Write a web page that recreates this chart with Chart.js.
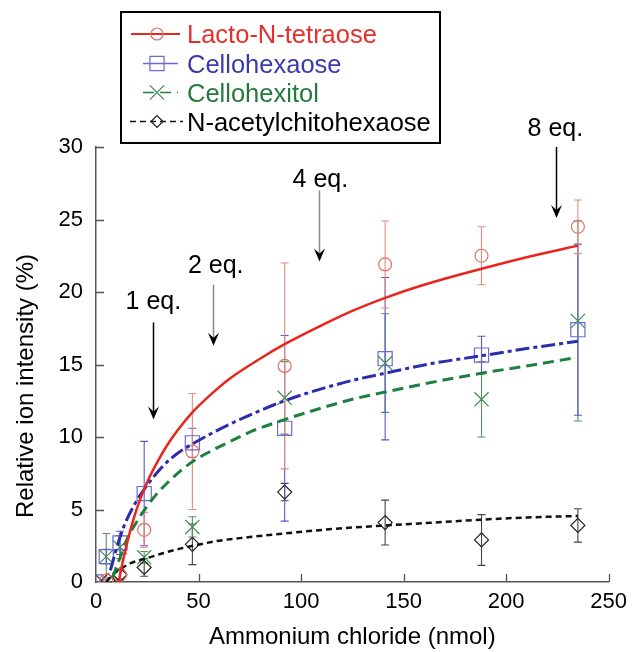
<!DOCTYPE html>
<html><head><meta charset="utf-8">
<script src="https://cdn.jsdelivr.net/npm/chart.js@4.4.1/dist/chart.umd.min.js"></script>
<style>html,body{margin:0;padding:0;background:#fff}#wrap{width:634px;height:652px}</style>
</head><body><div id="wrap"><canvas id="c" width="634" height="652"></canvas></div>
<script>
// ---------- DATA ----------
const seriesNames = ['Lacto-N-tetraose', 'Cellohexaose', 'Cellohexitol', 'N-acetylchitohexaose'];

const lactoX   = [5, 11.7, 23.5, 47, 92, 141, 188, 235];
const lactoY   = [0.1, 0.5, 3.6, 9.0, 14.9, 21.9, 22.5, 24.5];
const lactoErr = [0.2, 0.4, 1.2, 4.0, 7.1, 3.0, 2.0, 1.85];

const celloX   = [0, 5, 11.7, 23.5, 47, 92, 141, 188, 235];
const celloY   = [0, 1.75, 2.7, 6.1, 9.6, 10.6, 15.4, 15.65, 17.4];
const celloErr = [0, 0.5, 0.8, 3.6, 1.0, 6.4, 5.6, 1.3, 5.9];

const hexitolX   = [5, 11.7, 23.5, 47, 92, 141, 188, 235];
const hexitolY   = [1.75, 2.4, 1.7, 3.8, 12.7, 15.1, 12.6, 18.0];
const hexitolErr = [1.6, 0.8, 0.4, 0.7, 2.5, 3.4, 2.6, 6.9];

const chitoX   = [0, 5.9, 11.7, 23.5, 47, 92, 141, 188, 235];
const chitoY   = [0, 0.1, 0.5, 1.0, 2.6, 6.2, 4.1, 2.9, 3.9];
const chitoErr = [0, 0.2, 0.3, 0.6, 1.4, 0.6, 1.55, 1.75, 1.15];

// fitted curves
const lactoFitX = [11, 14, 17, 20, 25, 30, 35, 40, 47, 55, 65, 80, 92, 110, 125, 141, 160, 188, 210, 235];
const lactoFitY = [0, 2.0, 3.7, 5.1, 6.9, 8.3, 9.5, 10.5, 11.7, 12.8, 14.0, 15.4, 16.4, 17.7, 18.7, 19.6, 20.5, 21.6, 22.4, 23.2];

const celloFitX = [7, 10, 13.5, 19, 24.6, 32, 40, 48, 57, 67, 78, 92, 107, 125, 141, 165, 188, 210, 235];
const celloFitY = [0.8, 2.3, 3.8, 5.4, 6.6, 7.9, 8.9, 9.6, 10.3, 11.0, 11.7, 12.5, 13.2, 13.9, 14.4, 15.1, 15.6, 16.1, 16.6];

const hexitolFitX = [8, 11, 15, 20.5, 28, 36, 46, 57, 67, 76, 92, 110, 125, 141, 165, 188, 210, 233];
const hexitolFitY = [0.3, 1.4, 2.9, 4.3, 5.8, 7.0, 8.2, 9.1, 9.8, 10.4, 11.2, 12.0, 12.6, 13.1, 13.8, 14.4, 14.9, 15.45];

const chitoFitX = [5, 8, 12, 17, 25, 33, 41, 49, 60, 75, 92, 115, 141, 165, 188, 210, 235];
const chitoFitY = [0, 0.5, 0.9, 1.3, 1.65, 2.0, 2.3, 2.55, 2.85, 3.1, 3.35, 3.65, 3.9, 4.1, 4.3, 4.45, 4.55];

const xTicks = [0, 50, 100, 150, 200, 250];
const yTicks = [0, 5, 10, 15, 20, 25, 30];

// annotations (data coordinates)
const annoLabels   = ['1 eq.', '2 eq.', '4 eq.', '8 eq.'];
const annoTextX    = [28, 58.4, 109.4, 224];
const annoTextY    = [19.3, 21.8, 27.7, 31.2];
const annoArrowX   = [28, 57, 108.9, 224.3];
const annoArrowTop = [17.9, 20.5, 27.0, 30.0];
const annoArrowTip = [11.2, 16.3, 22.1, 25.1];

// ---------- STYLE ----------
const FONT = "'Liberation Sans', Arial, Helvetica, sans-serif";
const styles = [
  {line:'#e8261e', dash:[], lw:2.5, mark:'#e2705f', err:'#e88a80', text:'#e5302a', ps:'circle', r:6.5, lr:6},
  {line:'#2c2cae', dash:[14,4,4,4], lw:3, mark:'#6a6ad2', err:'#5a5acc', text:'#3a3aaa', ps:'rect', r:10, lr:10},
  {line:'#1d8040', dash:[11,6], lw:3, mark:'#3f8a4f', err:'#5a8f5f', text:'#237a3a', ps:'crossRot', r:10, lr:10},
  {line:'#111111', dash:[6,4], lw:2.5, mark:'#222222', err:'#444444', text:'#000000', ps:'rectRot', r:7, lr:6}
];
const annoShaft = ['#000', '#888', '#888', '#000'];

const pts = (xs, ys) => xs.map((x, i) => ({x: x, y: ys[i]}));
const markX = [lactoX, celloX, hexitolX, chitoX];
const markY = [lactoY, celloY, hexitolY, chitoY];
const markE = [lactoErr, celloErr, hexitolErr, chitoErr];
const fitX = [lactoFitX, celloFitX, hexitolFitX, chitoFitX];
const fitY = [lactoFitY, celloFitY, hexitolFitY, chitoFitY];

const datasets = [];
for (let s = 0; s < 4; s++) {
  datasets.push({
    label: seriesNames[s] + ' fit', data: pts(fitX[s], fitY[s]), showLine: true,
    borderColor: styles[s].line, borderWidth: styles[s].lw, borderDash: styles[s].dash,
    pointRadius: 0, fill: false, cubicInterpolationMode: 'monotone', borderCapStyle: 'butt'
  });
}
for (let s = 0; s < 4; s++) {
  datasets.push({
    label: seriesNames[s], data: pts(markX[s], markY[s]), showLine: false,
    pointStyle: styles[s].ps, pointRadius: styles[s].r, pointBorderColor: styles[s].mark,
    pointBackgroundColor: 'rgba(0,0,0,0)', pointBorderWidth: 1.2
  });
}

const errorBars = {
  id: 'errorBars',
  beforeDatasetsDraw(chart) {
    const ctx = chart.ctx, xs = chart.scales.x, ys = chart.scales.y;
    ctx.save();
    for (let s = 3; s >= 0; s--) {
      ctx.strokeStyle = styles[s].err; ctx.lineWidth = 1.1;
      markX[s].forEach((x, i) => {
        const e = markE[s][i]; if (!e) return;
        const px = xs.getPixelForValue(x);
        const t = ys.getPixelForValue(markY[s][i] + e);
        const b = ys.getPixelForValue(Math.max(0, markY[s][i] - e));
        ctx.beginPath();
        ctx.moveTo(px, t); ctx.lineTo(px, b);
        ctx.moveTo(px - 4, t); ctx.lineTo(px + 4, t);
        ctx.moveTo(px - 4, b); ctx.lineTo(px + 4, b);
        ctx.stroke();
      });
    }
    ctx.restore();
  }
};

const decor = {
  id: 'decor',
  afterDraw(chart) {
    const ctx = chart.ctx, xs = chart.scales.x, ys = chart.scales.y, a = chart.chartArea;
    ctx.save();
    // inward ticks
    ctx.strokeStyle = '#555'; ctx.lineWidth = 1.3;
    ctx.beginPath();
    xTicks.forEach(v => { if (v === 0) return; const p = Math.round(xs.getPixelForValue(v)) + 0.5; ctx.moveTo(p, a.bottom); ctx.lineTo(p, a.bottom - 8); });
    yTicks.forEach(v => { if (v === 0) return; const p = Math.round(ys.getPixelForValue(v)) + 0.5; ctx.moveTo(a.left, p); ctx.lineTo(a.left + 8, p); });
    ctx.stroke();

    // y axis title
    ctx.save();
    ctx.translate(26, 386); ctx.rotate(-Math.PI / 2);
    ctx.font = '24px ' + FONT; ctx.fillStyle = '#000'; ctx.textAlign = 'center'; ctx.textBaseline = 'middle';
    ctx.fillText('Relative ion intensity (%)', 0, 0);
    ctx.restore();

    // annotations
    ctx.font = '25px ' + FONT; ctx.textAlign = 'center'; ctx.textBaseline = 'middle';
    annoLabels.forEach((lab, i) => {
      ctx.fillStyle = '#000';
      ctx.fillText(lab, xs.getPixelForValue(annoTextX[i]), ys.getPixelForValue(annoTextY[i]));
      const ax = Math.round(xs.getPixelForValue(annoArrowX[i])) + 0.5;
      const top = ys.getPixelForValue(annoArrowTop[i]);
      const tip = ys.getPixelForValue(annoArrowTip[i]);
      ctx.strokeStyle = annoShaft[i]; ctx.lineWidth = 1.5;
      ctx.beginPath(); ctx.moveTo(ax, top); ctx.lineTo(ax, tip - 6); ctx.stroke();
      ctx.beginPath(); ctx.moveTo(ax, tip); ctx.lineTo(ax - 5.5, tip - 13); ctx.lineTo(ax, tip - 8); ctx.lineTo(ax + 5.5, tip - 13); ctx.closePath(); ctx.fill();
    });

    // legend
    const L = 121, T = 12, W = 319, H = 131;
    ctx.fillStyle = '#fff'; ctx.fillRect(L, T, W, H);
    ctx.strokeStyle = '#000'; ctx.lineWidth = 2; ctx.strokeRect(L, T, W, H);
    const rows = [34, 63.5, 92.5, 121.5];
    const segs = [[131, 180], [143, 178], [143, 178], [130, 183]];
    ctx.textAlign = 'left'; ctx.textBaseline = 'alphabetic'; ctx.font = '25.5px ' + FONT;
    for (let s = 0; s < 4; s++) {
      const y = rows[s], st = styles[s];
      ctx.strokeStyle = s === 1 ? st.mark : st.line; ctx.lineWidth = s === 0 ? 1.8 : 1.6; ctx.setLineDash(s === 1 ? [] : st.dash);
      ctx.beginPath(); ctx.moveTo(segs[s][0], y); ctx.lineTo(segs[s][1], y); ctx.stroke();
      ctx.setLineDash([]);
      ctx.strokeStyle = st.mark; ctx.fillStyle = 'rgba(0,0,0,0)'; ctx.lineWidth = 1.2;
      Chart.helpers.drawPoint(ctx, {pointStyle: st.ps, radius: st.lr, rotation: 0, borderWidth: 1.2}, 157, y);
      ctx.fillStyle = st.text;
      ctx.fillText(seriesNames[s], 187, y + 9);
    }
    ctx.restore();
  }
};

new Chart(document.getElementById('c'), {
  type: 'scatter',
  data: {datasets: datasets},
  plugins: [errorBars, decor],
  options: {
    responsive: false, animation: false, devicePixelRatio: 1,
    layout: {padding: {left: 0, right: 23, top: 147, bottom: 0}},
    plugins: {legend: {display: false}, tooltip: {enabled: false}},
    scales: {
      x: {
        type: 'linear', min: 0, max: 250,
        afterFit: sc => { sc.height = 70; },
        afterBuildTicks: sc => { sc.ticks = xTicks.map(v => ({value: v})); },
        ticks: {font: {size: 22, family: FONT}, color: '#000', padding: 7, maxRotation: 0},
        grid: {display: false, drawTicks: false},
        border: {display: true, color: '#555', width: 1.5},
        title: {display: true, text: 'Ammonium chloride (nmol)', color: '#000', font: {size: 24, family: FONT}, padding: {top: 0, bottom: 0}}
      },
      y: {
        type: 'linear', min: 0, max: 30,
        afterFit: sc => { sc.width = 96; },
        afterBuildTicks: sc => { sc.ticks = yTicks.map(v => ({value: v})); },
        ticks: {font: {size: 22, family: FONT}, color: '#000', padding: 13},
        grid: {display: false, drawTicks: false},
        border: {display: true, color: '#555', width: 1.5},
        title: {display: false, text: 'Relative ion intensity (%)'}
      }
    }
  }
});
</script>
</body></html>
